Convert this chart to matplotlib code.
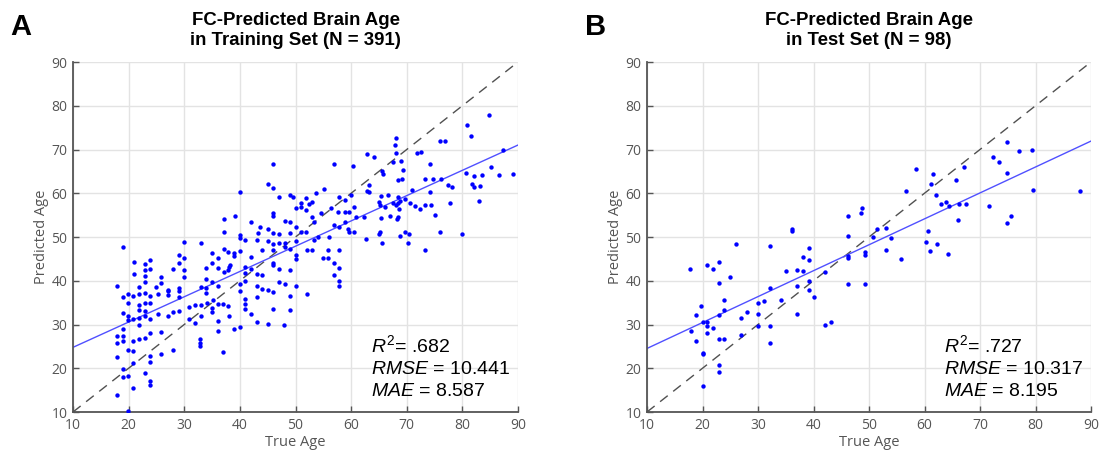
import matplotlib
matplotlib.use("Agg")
import matplotlib.pyplot as plt
import numpy as np

# --- values ----------------------------------------------------------------
train_age = [
    18.9, 19.9, 20.8, 21.9, 22.9, 23.8, 25.2, 27.0, 27.0, 29.0, 29.0,
    19.9, 21.8, 22.9, 23.9, 21.8, 22.9, 18.9, 19.9, 19.9, 20.8, 21.8, 22.9, 23.9,
    25.2, 27.0, 27.9, 29.0, 21.8, 18.9, 18.9, 17.9, 17.9, 18.9, 20.8, 21.9, 22.9,
    23.9, 25.9, 19.9, 20.8, 23.9, 25.9, 27.9, 17.9, 20.8, 23.9, 18.9, 22.9, 18.9,
    19.9, 23.9, 23.9, 20.8, 17.9, 19.9,
    30.9, 32.0, 33.0, 34.1, 35.0, 35.0, 36.1, 37.0, 37.9, 30.9, 32.0, 33.0, 36.1,
    36.1, 32.8, 32.8, 32.8, 37.0, 33.9, 35.2,
    18.9, 20.9, 20.9, 22.9, 22.9, 22.9, 22.9, 23.9, 23.9, 25.9, 25.9, 27.9, 29.0,
    29.0, 29.0, 30.0, 30.0, 30.0, 30.0, 33.0, 35.0, 36.1, 37.1, 37.1, 37.1, 37.9,
    33.9, 35.0, 36.1, 37.1, 37.9, 33.9, 35.0, 36.1, 17.9, 21.9, 24.9, 27.0, 33.0,
    33.9,
    46.0, 45.0, 46.0, 40.0, 47.0, 49.1, 49.6, 50.9, 50.9, 50.0, 51.9, 53.0, 53.6,
    52.5, 55.1, 51.9, 57.0, 60.3, 57.9, 58.9, 59.9,
    46.0, 46.0, 39.1, 42.0, 48.1, 49.0, 50.0, 50.9, 53.0, 53.4, 54.5, 56.4, 57.6,
    58.9, 59.7, 58.9, 57.0, 57.9, 59.5, 59.7, 43.2, 45.0, 43.6, 40.0, 40.0, 41.0,
    43.0, 46.0, 47.0, 49.0, 51.8, 54.0, 53.3, 56.1, 45.0, 46.0, 47.0, 48.1, 50.1,
    48.1, 49.0, 39.0, 39.0, 40.0, 42.0, 44.0, 46.0, 50.0, 50.0, 52.1, 53.0, 54.9,
    55.9, 55.9, 57.9, 57.0, 38.2, 38.0, 41.0, 42.0, 46.0, 46.0, 47.0, 49.0, 57.9,
    41.0, 43.0, 44.0, 56.9, 57.9, 47.0, 48.1, 40.0, 41.0, 43.0, 44.0, 45.0, 46.0,
    50.0, 57.9,
    38.0, 39.0, 40.0, 40.0, 41.0, 41.0, 41.0, 42.0, 43.0, 43.0, 45.0, 46.0, 48.0,
    49.0, 49.0, 52.0,
    84.8, 80.9, 81.5, 68.0, 67.8, 68.0, 75.9, 76.8, 62.9, 64.2, 71.8, 72.6, 67.6,
    69.0, 74.2, 87.3, 85.2, 65.5, 65.8, 69.4, 68.4, 69.1, 73.3, 74.7, 76.1, 80.6,
    82.1, 83.5, 86.5, 89.1, 81.8, 82.1, 83.2, 77.5, 78.2, 63.2, 62.9, 63.3, 70.9,
    74.1, 82.9, 60.6, 60.9, 62.3, 65.3, 66.7, 68.5, 68.8, 69.6, 65.0, 65.2, 66.1,
    67.6, 68.0, 68.4, 68.6, 70.6, 71.4, 72.4, 73.2, 74.4, 77.8, 75.0, 65.3, 66.9,
    68.2, 68.5, 60.6, 62.7, 65.0, 65.2, 65.6, 68.8, 69.6, 70.4, 70.2, 75.9, 80.0,
    73.2,
]
train_pred = [
    36.4, 37.0, 36.6, 37.0, 37.2, 36.6, 37.0, 37.6, 36.8, 37.6, 36.3,
    34.9, 34.5, 34.9, 34.9, 33.3, 33.0, 32.7, 32.0, 31.1, 31.3, 31.5, 31.9, 31.3,
    32.3, 32.0, 32.8, 33.0, 30.0, 29.0, 27.3, 27.3, 25.8, 26.2, 26.2, 26.7, 27.0,
    28.1, 28.3, 24.2, 24.0, 22.8, 23.2, 24.1, 22.6, 21.1, 21.4, 19.8, 19.0, 17.9,
    18.3, 17.1, 16.1, 15.5, 13.9, 10.3,
    34.0, 34.5, 34.5, 34.9, 33.8, 32.8, 34.8, 34.8, 34.2, 31.3, 30.4, 31.9, 30.8,
    28.5, 26.6, 25.8, 25.2, 23.7, 37.3, 35.7,
    47.7, 44.3, 41.5, 43.9, 42.4, 41.1, 39.8, 44.7, 42.6, 40.8, 39.4, 42.6, 45.8,
    44.1, 38.3, 48.9, 45.3, 42.4, 40.9, 48.6, 46.4, 45.3, 54.2, 51.1, 47.3, 46.6,
    43.0, 44.1, 43.0, 42.0, 42.4, 40.5, 39.8, 38.8, 38.8, 38.6, 38.5, 37.9, 38.5,
    38.3,
    66.6, 62.2, 61.2, 60.4, 59.1, 59.7, 59.1, 57.8, 56.9, 56.7, 58.9, 58.0, 60.0,
    57.6, 61.0, 56.2, 66.7, 66.2, 59.1, 58.4, 59.5,
    55.4, 54.8, 54.8, 53.5, 53.7, 53.5, 52.4, 51.2, 54.6, 53.5, 55.4, 56.7, 55.7,
    55.7, 55.7, 53.5, 52.7, 52.4, 51.8, 51.2, 51.0, 51.8, 52.2, 50.5, 49.7, 49.4,
    49.4, 50.9, 50.7, 50.9, 51.2, 50.0, 49.4, 50.0, 49.2, 48.5, 48.6, 48.6, 49.0,
    47.7, 47.3, 46.4, 45.6, 46.7, 45.5, 47.1, 47.1, 45.8, 44.9, 47.1, 47.1, 45.2,
    45.2, 47.0, 47.1, 44.1, 43.7, 43.2, 43.2, 42.8, 44.1, 43.5, 42.8, 42.5, 43.0,
    41.7, 41.5, 41.3, 41.3, 40.0, 39.8, 39.3, 39.3, 40.0, 38.9, 38.1, 38.0, 37.5,
    38.7, 38.9,
    31.9, 28.9, 29.5, 37.6, 35.9, 34.8, 33.6, 32.3, 36.3, 30.6, 30.2, 33.6, 30.0,
    36.5, 33.3, 36.9,
    78.0, 75.5, 73.2, 72.7, 71.1, 69.2, 72.0, 72.0, 68.9, 68.3, 69.2, 69.4, 67.1,
    67.3, 66.7, 70.0, 66.0, 65.2, 64.5, 65.4, 63.1, 63.3, 63.3, 63.3, 63.3, 64.6,
    63.9, 64.1, 64.1, 64.5, 62.2, 61.4, 61.6, 62.0, 61.4, 61.8, 60.5, 60.3, 60.7,
    60.3, 58.3, 56.9, 54.6, 54.6, 59.3, 59.5, 59.2, 58.3, 58.8, 58.0, 57.3, 56.9,
    57.8, 57.3, 57.8, 56.5, 57.7, 57.0, 56.3, 57.3, 57.3, 57.8, 55.0, 54.4, 54.8,
    54.2, 54.6, 51.2, 49.5, 50.8, 51.2, 48.7, 50.2, 51.2, 50.7, 48.7, 51.2, 50.7,
    47.0,
]

test_age = [
    17.8, 20.9, 21.9, 23.0, 25.0, 26.0, 32.1, 36.1, 36.1, 35.1, 37.1, 38.1, 38.1,
    39.1, 39.1, 42.1, 46.2, 46.2, 46.2, 46.2, 48.6, 48.7, 49.2, 49.2,
    23.0, 39.1, 37.1, 32.1, 39.1, 46.2, 49.2, 40.1, 34.1, 31.0, 30.0, 30.0, 28.0,
    27.0, 23.9, 23.9, 23.0, 19.8, 18.9, 20.0, 20.9, 20.9, 21.9, 20.9, 17.9, 18.9,
    23.0, 23.9, 27.0, 30.0, 32.1, 32.1, 37.1, 42.1, 43.1, 20.0, 20.0, 23.0, 23.0,
    20.0,
    74.8, 77.1, 79.3, 72.4, 73.4, 58.4, 67.1, 61.6, 61.1, 65.7, 74.8, 56.7, 62.0,
    79.6, 88.1, 62.9, 63.9, 64.5, 66.3, 67.5, 71.7, 66.1, 74.8, 75.5, 51.4, 53.1,
    50.8, 53.9, 60.7, 60.2, 61.0, 62.3, 53.1, 55.8, 64.3,
]
test_pred = [
    42.8, 43.7, 42.8, 44.3, 40.9, 48.3, 47.9, 51.8, 51.4, 42.2, 42.5, 42.2, 45.5,
    47.4, 44.8, 42.0, 54.8, 50.2, 45.6, 45.2, 55.6, 56.7, 46.5, 46.0,
    39.6, 40.0, 38.8, 38.4, 38.0, 39.2, 39.2, 36.2, 35.6, 35.4, 34.9, 32.4, 32.8,
    31.5, 35.5, 33.4, 32.2, 34.3, 32.2, 30.5, 30.6, 29.6, 29.2, 28.1, 28.5, 26.3,
    26.6, 26.6, 27.5, 29.6, 29.6, 25.8, 32.4, 29.8, 30.5, 23.5, 23.3, 20.7, 19.2,
    16.0,
    71.7, 69.6, 69.8, 68.3, 67.1, 65.5, 66.0, 64.5, 62.2, 63.0, 64.6, 60.5, 59.7,
    60.7, 60.5, 57.5, 58.0, 57.1, 57.5, 57.5, 57.0, 53.9, 53.1, 54.8, 51.8, 52.0,
    49.9, 49.7, 51.4, 48.8, 46.9, 48.5, 47.0, 45.0, 46.1,
]

# fitted lines: (slope, intercept)
train_fit = (0.578, 19.0)
test_fit = (0.5925, 18.6)

train_stats = (".682", "10.441", "8.587")
test_stats = (".727", "10.317", "8.195")

panel_titles = [
    "FC-Predicted Brain Age\nin Training Set (N = 391)",
    "FC-Predicted Brain Age\nin Test Set (N = 98)",
]
panel_letters = ["A", "B"]
ticks = [10, 20, 30, 40, 50, 60, 70, 80, 90]

plt.rcParams["mathtext.fontset"] = "custom"
plt.rcParams["mathtext.rm"] = "Liberation Sans"
plt.rcParams["mathtext.it"] = "Liberation Sans:italic"

AXIS_GRAY = "#555555"
W, H = 1099, 457


def draw_panel(ax, age, pred, fit, stats, title):
    ax.set_xlim(10, 90)
    ax.set_ylim(10, 90)
    ax.set_xticks(ticks)
    ax.set_yticks(ticks)
    ax.grid(True, color="#e3e3e3", lw=1)
    ax.set_axisbelow(True)
    for side in ("top", "right"):
        ax.spines[side].set_visible(False)
    for side in ("left", "bottom"):
        ax.spines[side].set_color(AXIS_GRAY)
        ax.spines[side].set_linewidth(1.3)
    ax.tick_params(direction="in", length=4, width=1, color=AXIS_GRAY,
                   labelcolor=AXIS_GRAY, labelsize=10, pad=4)
    for lab in ax.get_xticklabels() + ax.get_yticklabels():
        lab.set_fontfamily("Open Sans")

    ax.plot([10, 90], [10, 90], color="#505050", lw=1, ls=(0, (7, 5)))
    xs = np.array([10, 90])
    ax.plot(xs, fit[0] * xs + fit[1], color="#5050ff", lw=1)
    ax.scatter(age, pred, s=10, color="blue", linewidths=0, zorder=3)

    ax.set_xlabel("True Age", color=AXIS_GRAY, fontsize=10.5,
                  family="Open Sans", labelpad=2)
    ax.set_ylabel("Predicted Age", color=AXIS_GRAY, fontsize=10.5,
                  family="Open Sans", labelpad=2)
    ax.set_title(title, fontsize=13.4, fontweight="bold",
                 family="Liberation Sans", pad=12, linespacing=1.25)

    txt = (r"$R^2$= " + stats[0] + "\n"
           + r"$RMSE$ = " + stats[1] + "\n"
           + r"$MAE$ = " + stats[2])
    ax.text(63.6, 20.3, txt, fontsize=14, family="Liberation Sans",
            va="center", ha="left", linespacing=1.38)


fig = plt.figure(figsize=(W / 100, H / 100), dpi=100)
ax_a = fig.add_axes([73 / W, 1 - 412 / H, 445 / W, 350 / H])
ax_b = fig.add_axes([647 / W, 1 - 412 / H, 444 / W, 350 / H])

draw_panel(ax_a, train_age, train_pred, train_fit, train_stats, panel_titles[0])
draw_panel(ax_b, test_age, test_pred, test_fit, test_stats, panel_titles[1])

fig.text(10 / W, 1 - 13 / H, panel_letters[0], fontsize=21, fontweight="bold",
         family="Liberation Sans", va="top", ha="left")
fig.text(585 / W, 1 - 13 / H, panel_letters[1], fontsize=21, fontweight="bold",
         family="Liberation Sans", va="top", ha="left")

fig.savefig("out.png", dpi=100)
